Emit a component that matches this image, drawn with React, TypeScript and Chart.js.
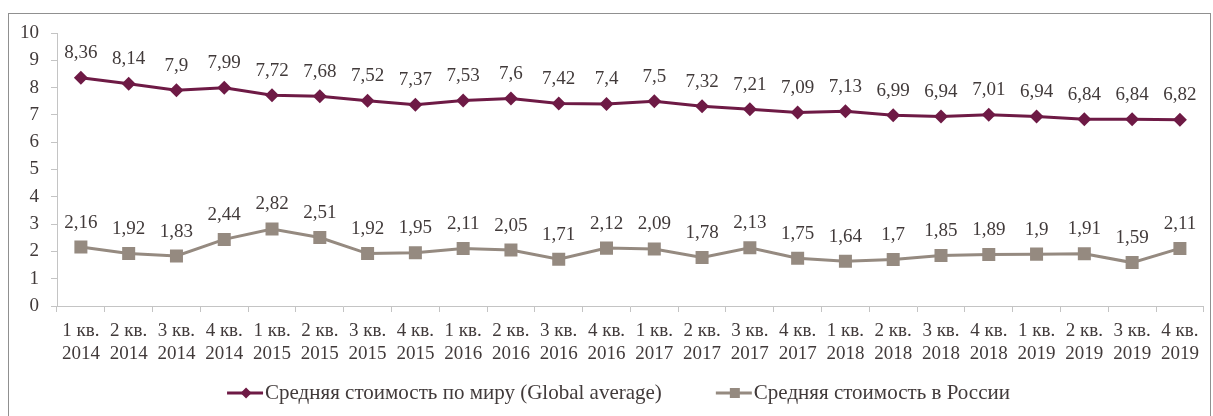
import React, { useEffect, useRef } from 'react';
import { Chart, registerables } from 'chart.js';

Chart.register(...registerables);

const quarters = ['1 кв.', '2 кв.', '3 кв.', '4 кв.'];
const years = ['2014', '2015', '2016', '2017', '2018', '2019'];
const categories = years.flatMap((y) => quarters.map((q) => [q, y]));

const globalLabel = 'Средняя стоимость по миру (Global average)';
const globalAverage = [8.36, 8.14, 7.9, 7.99, 7.72, 7.68, 7.52, 7.37, 7.53, 7.6, 7.42, 7.4, 7.5, 7.32, 7.21, 7.09, 7.13, 6.99, 6.94, 7.01, 6.94, 6.84, 6.84, 6.82];

const russiaLabel = 'Средняя стоимость в России';
const russiaAverage = [2.16, 1.92, 1.83, 2.44, 2.82, 2.51, 1.92, 1.95, 2.11, 2.05, 1.71, 2.12, 2.09, 1.78, 2.13, 1.75, 1.64, 1.7, 1.85, 1.89, 1.9, 1.91, 1.59, 2.11];

const yMin = 0;
const yMax = 10;
const yStep = 1;

const MAROON = '#6e1a45';
const TAUPE = '#958a80';
const TEXT = '#413a3a';
const AXIS = '#c4c4c4';
const BORDER = '#909090';
const FONT_FAMILY = '"Liberation Serif", "Times New Roman", serif';
const FONT_SIZE = 19;
const LEGEND_FONT_SIZE = 21;

const borderPlugin = {
  id: 'outerBorder',
  beforeDraw(chart: any) {
    const ctx = chart.ctx;
    ctx.save();
    ctx.strokeStyle = BORDER;
    ctx.lineWidth = 1;
    ctx.strokeRect(8.5, 13.5, 1202, 600);
    ctx.restore();
  },
};

const dataLabelPlugin = {
  id: 'valueLabels',
  afterDatasetsDraw(chart: any) {
    const ctx = chart.ctx;
    ctx.save();
    ctx.font = `${FONT_SIZE}px ${FONT_FAMILY}`;
    ctx.fillStyle = TEXT;
    ctx.textAlign = 'center';
    ctx.textBaseline = 'middle';
    chart.data.datasets.forEach((ds: any, i: number) => {
      const meta = chart.getDatasetMeta(i);
      meta.data.forEach((pt: any, j: number) => {
        const v = ds.data[j];
        ctx.fillText(String(v).replace('.', ','), pt.x, pt.y - 24.5);
      });
    });
    ctx.restore();
  },
};

const legendPlugin = {
  id: 'lineLegend',
  afterDraw(chart: any) {
    const ctx = chart.ctx;
    const shapes = ['diamond', 'square'];
    ctx.save();
    ctx.font = `${LEGEND_FONT_SIZE}px ${FONT_FAMILY}`;
    ctx.textBaseline = 'middle';
    ctx.textAlign = 'left';
    const ds = chart.data.datasets;
    const iconW = 36;
    const gapIconText = 2;
    const gapItems = 54;
    const widths = ds.map((d: any) => iconW + gapIconText + ctx.measureText(d.label).width);
    const total = widths.reduce((a: number, b: number) => a + b, 0) + gapItems * (ds.length - 1);
    const cy = 393;
    let x = 618.5 - total / 2;
    ds.forEach((d: any, i: number) => {
      const color = d.borderColor;
      ctx.strokeStyle = color;
      ctx.fillStyle = color;
      ctx.lineWidth = 3;
      ctx.beginPath();
      ctx.moveTo(x, cy);
      ctx.lineTo(x + iconW, cy);
      ctx.stroke();
      const mx = x + iconW / 2 + 1;
      ctx.beginPath();
      if (shapes[i] === 'diamond') {
        ctx.moveTo(mx, cy - 5.5);
        ctx.lineTo(mx + 5.5, cy);
        ctx.lineTo(mx, cy + 5.5);
        ctx.lineTo(mx - 5.5, cy);
        ctx.closePath();
      } else {
        ctx.rect(mx - 5, cy - 5, 10, 10);
      }
      ctx.fill();
      ctx.fillStyle = TEXT;
      ctx.fillText(d.label, x + iconW + gapIconText, cy);
      x += widths[i] + gapItems;
    });
    ctx.restore();
  },
};

export default function App() {
  const ref = useRef<HTMLCanvasElement>(null);

  useEffect(() => {
    const prevMargin = document.body.style.margin;
    document.body.style.margin = '0';
    const font = { family: FONT_FAMILY, size: FONT_SIZE };
    const chart = new Chart(ref.current!, {
      type: 'line',
      data: {
        labels: categories,
        datasets: [
          {
            label: globalLabel,
            data: globalAverage,
            borderColor: MAROON,
            backgroundColor: MAROON,
            borderWidth: 3,
            pointStyle: 'rectRot',
            pointRadius: 7,
            pointBorderWidth: 0,
            pointBackgroundColor: MAROON,
            tension: 0,
          },
          {
            label: russiaLabel,
            data: russiaAverage,
            borderColor: TAUPE,
            backgroundColor: TAUPE,
            borderWidth: 3,
            pointStyle: 'rect',
            pointRadius: 9.2,
            pointBorderWidth: 0,
            pointBackgroundColor: TAUPE,
            tension: 0,
          },
        ],
      },
      options: {
        animation: false,
        responsive: true,
        maintainAspectRatio: false,
        layout: { padding: { top: 33, right: 7, left: 0, bottom: 0 } },
        plugins: {
          tooltip: { enabled: false },
          legend: { display: false },
        },
        scales: {
          x: {
            type: 'category',
            offset: true,
            grid: { offset: true, drawOnChartArea: false, tickLength: 6, color: AXIS },
            border: { color: AXIS, width: 1 },
            ticks: { color: TEXT, font, padding: 8, maxRotation: 0, autoSkip: false },
            afterFit: (s: any) => {
              s.height = 110;
            },
          },
          y: {
            min: yMin,
            max: yMax,
            ticks: { stepSize: yStep, color: TEXT, font, padding: 12 },
            grid: { drawOnChartArea: false, tickLength: 6, color: AXIS },
            border: { color: AXIS, width: 1 },
            afterFit: (s: any) => {
              s.width = 57;
            },
          },
        },
      },
      plugins: [borderPlugin, dataLabelPlugin, legendPlugin],
    });
    return () => {
      chart.destroy();
      document.body.style.margin = prevMargin;
    };
  }, []);

  return (
    <div style={{ position: 'relative', width: 1213, height: 416 }}>
      <canvas ref={ref} />
    </div>
  );
}
